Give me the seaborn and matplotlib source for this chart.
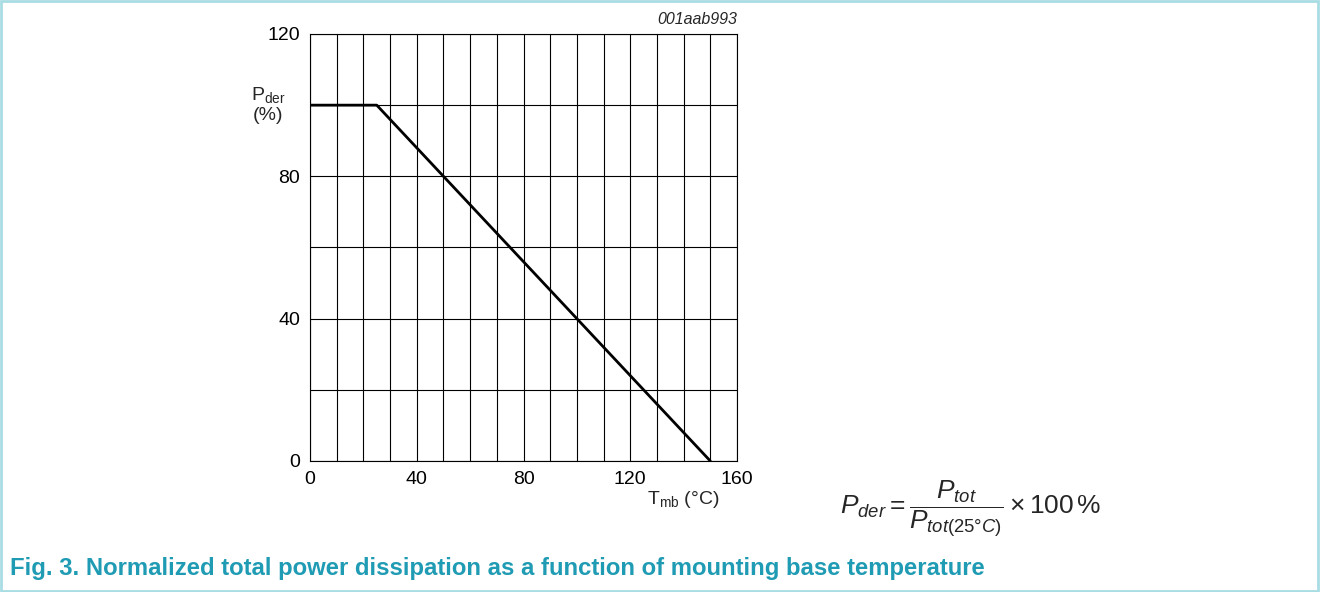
import matplotlib
matplotlib.use("Agg")
import matplotlib.pyplot as plt
from matplotlib.patches import Rectangle
import pandas as pd
import seaborn as sns

# derating curve: flat to 25 C, then linear down to 0 at 150 C
temp = [0, 25, 150]
pder = [100, 100, 0]
xticks = [0, 40, 80, 120, 160]
yticks = [0, 40, 80, 120]

sns.set_style("white")
plt.rcParams['font.family'] = ['Liberation Sans', 'DejaVu Sans']
plt.rcParams['mathtext.fontset'] = 'custom'
plt.rcParams['mathtext.rm'] = 'Liberation Sans'
plt.rcParams['mathtext.it'] = 'Liberation Sans:italic'

df = pd.DataFrame({"Tmb": temp, "Pder": pder})

fig = plt.figure(figsize=(13.21, 5.92), dpi=100)
ax = fig.add_axes([0.2347, 0.2213, 0.3232, 0.7213])

sns.lineplot(x="Tmb", y="Pder", data=df, ax=ax, color="black", linewidth=2, zorder=3)

ax.set_xlim(0, 160)
ax.set_ylim(0, 120)
ax.set_xticks(range(0, 161, 10), minor=True)
ax.set_yticks(range(0, 121, 20), minor=True)
ax.set_xticks(xticks)
ax.set_yticks(yticks)
ax.grid(which="both", color="black", linewidth=0.8)
ax.tick_params(which="both", length=0, labelsize=14, colors="black", pad=7)
ax.set_xlabel("")
ax.set_ylabel("")
for s in ax.spines.values():
    s.set_color("black")
    s.set_linewidth(0.8)

fig.text(268 / 1321, 1 - 95 / 592, r"P$_{\mathregular{der}}$", fontsize=14, ha="center", va="center")
fig.text(268 / 1321, 1 - 116 / 592, "(%)", fontsize=14, ha="center", va="center")
fig.text(737 / 1321, 1 - 20 / 592, "001aab993", fontsize=11.5, style="italic", ha="right", va="center")
fig.text(683 / 1321, 1 - 500 / 592, r"T$_{\mathregular{mb}}$ (°C)", fontsize=14, ha="center", va="center")

fig.text(840 / 1321, 1 - 509 / 592,
         r"$P_{der} = \dfrac{P_{tot}}{P_{tot(25\degree C)}} \times \mathregular{100\,\%}$",
         fontsize=19, ha="left", va="center")

fig.text(10 / 1321, 1 - 568 / 592,
         "Fig. 3. Normalized total power dissipation as a function of mounting base temperature",
         fontsize=17.2, fontweight="bold", color="#1f9bb4", ha="left", va="center")

fig.patches.append(Rectangle((0.001, 0.002), 0.997, 0.996, transform=fig.transFigure,
                             fill=False, edgecolor="#a9dde4", linewidth=2))

fig.savefig("out.png", dpi=100)
